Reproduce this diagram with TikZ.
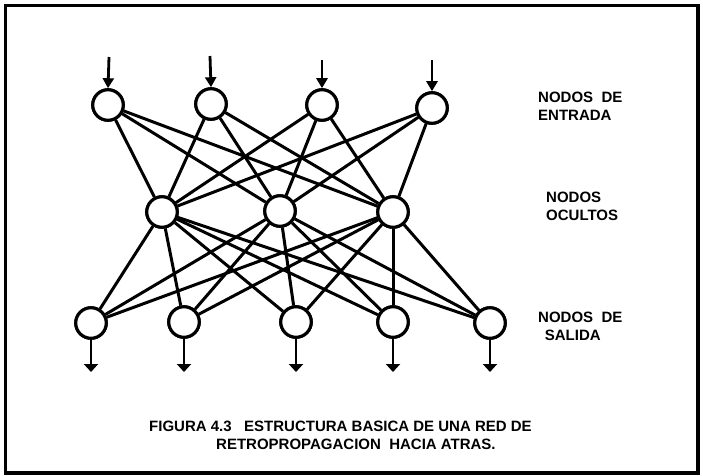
\documentclass[tikz,border=0pt]{standalone}
\usepackage{fontspec}
\setmainfont{Liberation Sans}
\usetikzlibrary{arrows.meta}
\begin{document}
\begin{tikzpicture}[x=1pt,y=-1pt,
  neuron/.style={circle,draw,line width=3.1pt,minimum size=30.5pt,inner sep=0pt,fill=white},
  link/.style={line width=3pt},
  inflow/.style={line width=2.8pt,-{Triangle[length=10pt,width=11pt]}},
  outflow/.style={line width=2.8pt,-{Triangle[length=8pt,width=14pt]}},
  lbl/.style={font=\bfseries\fontsize{15}{18}\selectfont,align=left,inner sep=0pt,anchor=west}]
\fill[white] (0,0) rectangle (703,475);
\draw[line width=3.8pt] (5.5,5.5) rectangle (698,473);
% input nodes
\node[neuron] (i1) at (108,105) {};
\node[neuron] (i2) at (211,104) {};
\node[neuron] (i3) at (322,105) {};
\node[neuron] (i4) at (432,108) {};
% hidden nodes
\node[neuron] (h1) at (162,212) {};
\node[neuron] (h2) at (280,211) {};
\node[neuron] (h3) at (393,212) {};
% output nodes
\node[neuron] (o1) at (91,323) {};
\node[neuron] (o2) at (184,322) {};
\node[neuron] (o3) at (296,322) {};
\node[neuron] (o4) at (393,322) {};
\node[neuron] (o5) at (490,323) {};
% connections
\foreach \a in {i1,i2,i3,i4}
  \foreach \b in {h1,h2,h3}
    \draw[link] (\a) -- (\b);
\foreach \a in {h1,h2,h3}
  \foreach \b in {o1,o2,o3,o4,o5}
    \draw[link] (\a) -- (\b);
% redraw nodes on top
\foreach \n in {i1,i2,i3,i4,h1,h2,h3,o1,o2,o3,o4,o5}
  \node[neuron] at (\n.center) {};
% input arrows
\coordinate (a1) at (109,57);
\coordinate (a2) at (210,56);
\coordinate (a3) at (322,60);
\coordinate (a4) at (432,60);
\draw[inflow] (a1) -- (i1.north);
\draw[inflow] (a2) -- (i2.north);
\draw[inflow] (a3) -- (i3.north);
\draw[inflow] (a4) -- (i4.north);
% output arrows
\coordinate (b1) at (91,372);
\coordinate (b2) at (184,372);
\coordinate (b3) at (296,372);
\coordinate (b4) at (393,372);
\coordinate (b5) at (490,372);
\draw[outflow] (o1.south) -- (b1);
\draw[outflow] (o2.south) -- (b2);
\draw[outflow] (o3.south) -- (b3);
\draw[outflow] (o4.south) -- (b4);
\draw[outflow] (o5.south) -- (b5);
% labels
\node[lbl] (l1) at (538,106) {NODOS\ \ DE\\ENTRADA};
\node[lbl] (l2) at (546,206) {NODOS\\OCULTOS};
\node[lbl] (l3) at (538,326) {NODOS\ \ DE\\\ \,SALIDA};
% caption
\node[lbl] (c1) at (149,426) {FIGURA 4.3\ \ \ ESTRUCTURA\ BASICA\ DE\ UNA\ RED\ DE};
\node[lbl] (c2) at (216,444) {RETROPROPAGACION\ \ HACIA\ ATRAS.};
\end{tikzpicture}
\end{document}
